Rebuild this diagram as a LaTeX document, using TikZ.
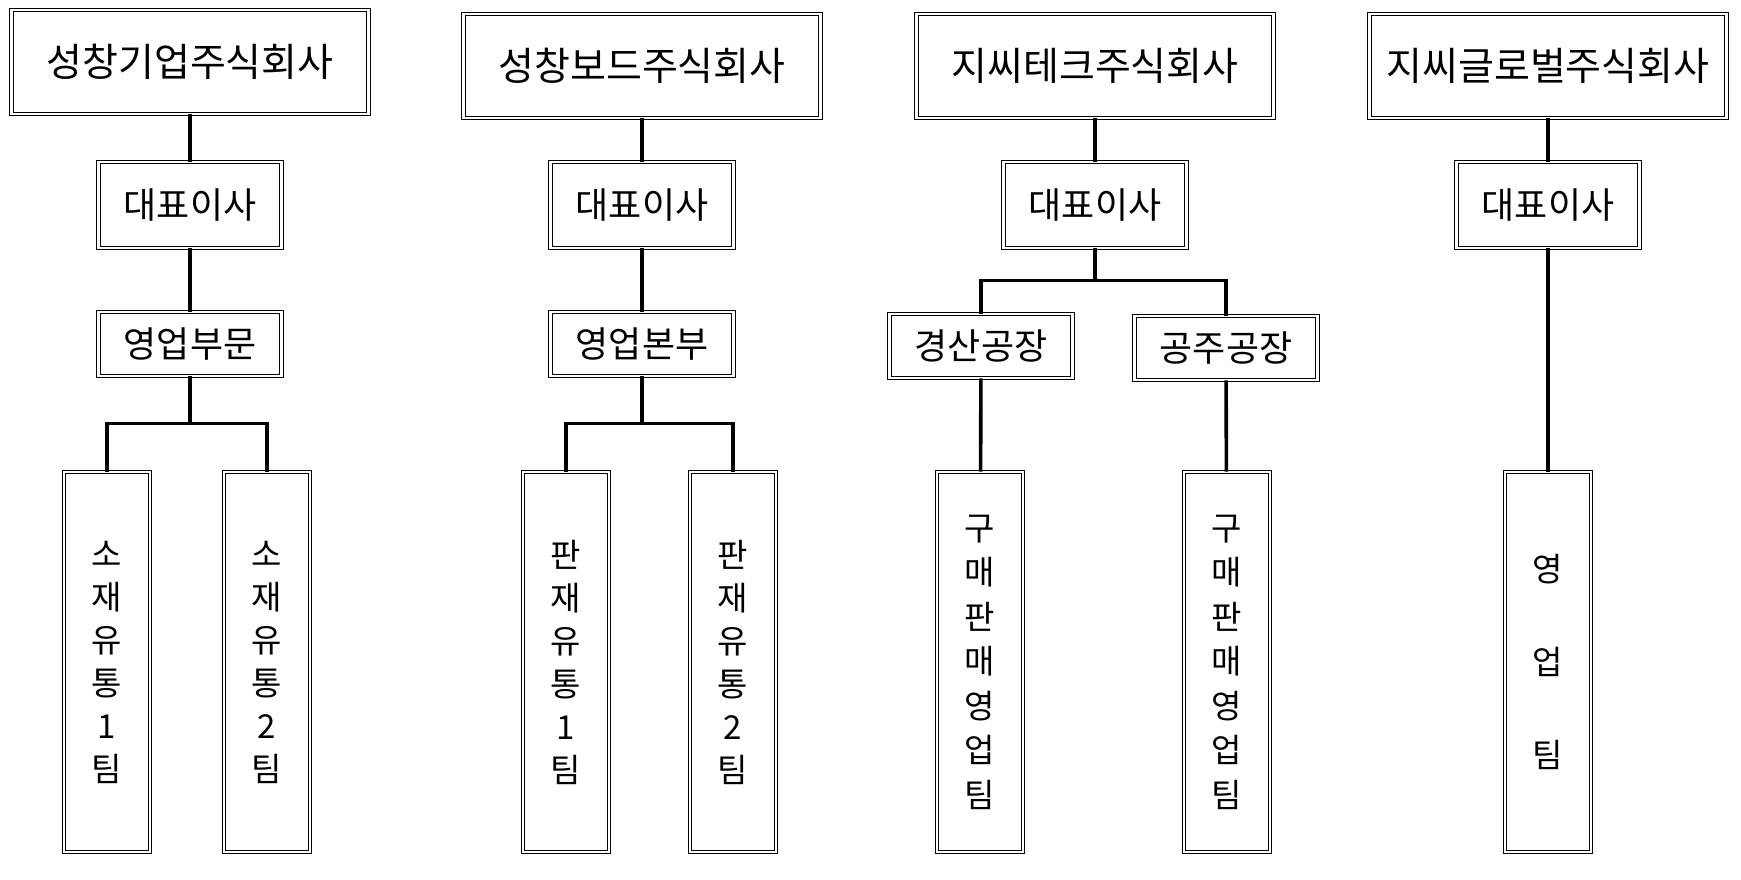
\documentclass[tikz,border=0pt]{standalone}
\usepackage{fontspec}
\setmainfont{Noto Sans CJK KR}
\begin{document}
\begin{tikzpicture}[x=1pt,y=-1pt,
  box/.style={draw, double, line width=0.9pt, double distance=2.6pt, inner sep=0pt, align=center, font=\fontsize{36}{40}\selectfont},
  title/.style={box, minimum width=357, minimum height=104, font=\fontsize{39}{44}\selectfont},
  mid/.style={box, minimum width=183, minimum height=86},
  sub/.style={box, minimum width=183, minimum height=64},
  leaf/.style={box, minimum width=86, minimum height=380, font=\fontsize{33}{43}\selectfont},
  conn/.style={line width=3.6pt}]
\useasboundingbox (0,0) rectangle (1741,879);
% column 1
\node[title] (t1) at (190,62) {성창기업주식회사};
\node[mid] (c1) at (190,205) {대표이사};
\node[sub] (s1) at (190,344) {영업부문};
\node[leaf] (l1a) at (107,662) {소\\재\\유\\통\\1\\팀};
\node[leaf] (l1b) at (267,662) {소\\재\\유\\통\\2\\팀};
\draw[conn] (t1) -- (c1); \draw[conn] (c1) -- (s1);
\draw[conn] (s1.south) -- ++(0,47) -| (l1a.north);
\draw[conn] (s1.south) ++(0,47) -| (l1b.north);
% column 2
\node[title] (t2) at (642,66) {성창보드주식회사};
\node[mid] (c2) at (642,205) {대표이사};
\node[sub] (s2) at (642,344) {영업본부};
\node[leaf] (l2a) at (566,662) {판\\재\\유\\통\\1\\팀};
\node[leaf] (l2b) at (733,662) {판\\재\\유\\통\\2\\팀};
\draw[conn] (t2) -- (c2); \draw[conn] (c2) -- (s2);
\draw[conn] (s2.south) -- ++(0,47) -| (l2a.north);
\draw[conn] (s2.south) ++(0,47) -| (l2b.north);
% column 3
\node[title] (t3) at (1095,66) {지씨테크주식회사};
\node[mid] (c3) at (1095,205) {대표이사};
\node[sub] (s3a) at (981,346) {경산공장};
\node[sub] (s3b) at (1226,348) {공주공장};
\node[leaf,font=\fontsize{33}{44.5}\selectfont] (l3a) at (980,662) {구\\매\\판\\매\\영\\업\\팀};
\node[leaf,font=\fontsize{33}{44.5}\selectfont] (l3b) at (1227,662) {구\\매\\판\\매\\영\\업\\팀};
\draw[conn] (t3) -- (c3);
\draw[conn] (c3.south) -- ++(0,32) coordinate (b3);
\draw[conn] (b3) -| (s3a.north);
\draw[conn] (b3) -| (s3b.north);
\draw[conn] (s3a) -- (l3a); \draw[conn] (s3b) -- (l3b);
% column 4
\node[title] (t4) at (1548,66) {지씨글로벌주식회사};
\node[mid] (c4) at (1548,205) {대표이사};
\node[leaf,font=\fontsize{33}{93}\selectfont] (l4) at (1548,662) {영\\업\\팀};
\draw[conn] (t4) -- (c4); \draw[conn] (c4) -- (l4);
\end{tikzpicture}
\end{document}
